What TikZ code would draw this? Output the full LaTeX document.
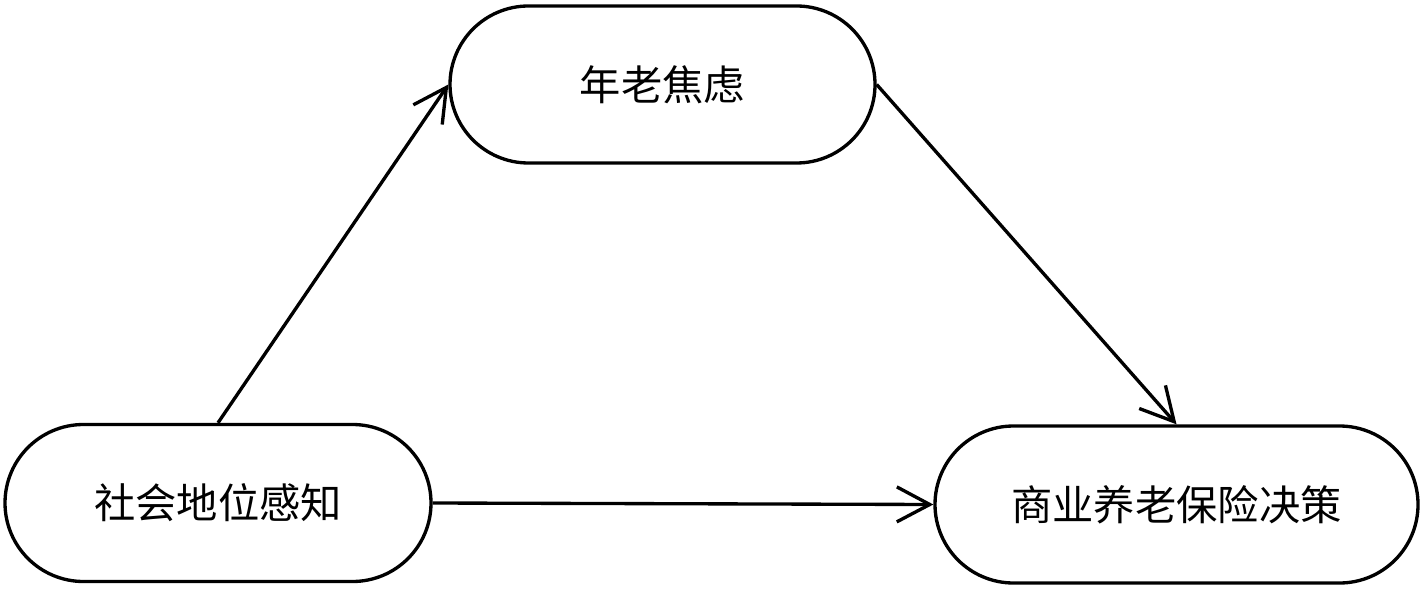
\documentclass[tikz,border=0pt]{standalone}
\usepackage{fontspec}
\newfontfamily\cjk{Noto Sans CJK SC}
\usetikzlibrary{shapes.misc,arrows.meta}
\tikzset{
  pill/.style={rounded rectangle, draw=black, line width=1.9pt, inner sep=0pt,
    minimum height=157*0.02cm, font=\cjk\fontsize{23.5}{28}\selectfont},
  link/.style={line width=1.9pt, -{Straight Barb[length=0.66cm,width=0.7cm]}}
}
\begin{document}
\begin{tikzpicture}[x=0.02cm,y=-0.02cm]
\useasboundingbox (0,0) rectangle (1425,591);
\node[pill, minimum width=425*0.02cm] (ya) at (662.5,84.5) {年老焦虑};
\node[pill, minimum width=426*0.02cm] (sl) at (218,503) {社会地位感知};
\node[pill, minimum width=483*0.02cm] (dec) at (1176.5,504.5) {商业养老保险决策};
\draw[link] (sl.north) -- (ya.west);
\draw[link] (ya.east) -- (dec.north);
\draw[link] (sl.east) -- (dec.west);
\end{tikzpicture}
\end{document}
